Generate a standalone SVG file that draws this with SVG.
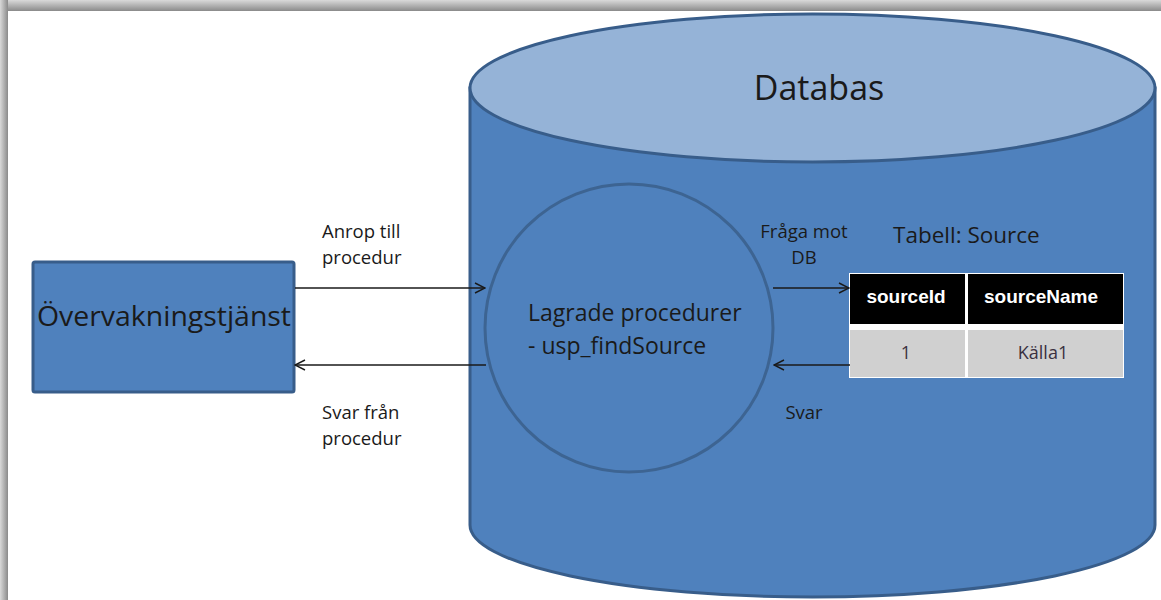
<svg xmlns="http://www.w3.org/2000/svg" width="1161" height="600" viewBox="0 0 1161 600">
  <defs>
    <linearGradient id="edgeTop" x1="0" y1="0" x2="0" y2="1">
      <stop offset="0" stop-color="#d9d9d9"/>
      <stop offset="1" stop-color="#8a8a8a"/>
    </linearGradient>
    <linearGradient id="edgeLeft" x1="0" y1="0" x2="1" y2="0">
      <stop offset="0" stop-color="#d9d9d9"/>
      <stop offset="1" stop-color="#8a8a8a"/>
    </linearGradient>
    <marker id="open" viewBox="0 0 12 12" refX="11" refY="6" markerWidth="12" markerHeight="12" markerUnits="userSpaceOnUse" orient="auto">
      <path d="M1,1 L11,6 L1,11" fill="none" stroke="#1a1a1a" stroke-width="1.4"/>
    </marker>
  </defs>
  <style>
    .shape { fill: #4f81bd; stroke: #385d8a; stroke-width: 3; }
    .lbl { font-family: "Open Sans", "Liberation Sans", sans-serif; fill: #1a1a1a; }
    .small { font-size: 18.5px; }
    .link { stroke: #1a1a1a; stroke-width: 1.5; fill: none; marker-end: url(#open); }
    .th { font-family: "Liberation Sans", sans-serif; font-weight: bold; font-size: 19px; fill: #ffffff; }
    .td { font-family: "Open Sans", "Liberation Sans", sans-serif; font-size: 18px; fill: #3a3040; }
  </style>

  <!-- page frame with drop shadow edges -->
  <rect x="0" y="0" width="1161" height="600" fill="#ffffff"/>
  <rect x="0" y="0" width="1161" height="11" fill="url(#edgeTop)"/>
  <rect x="0" y="0" width="8" height="600" fill="url(#edgeLeft)"/>

  <!-- database cylinder -->
  <g id="databas">
    <path class="shape" d="M470,88 L470,525 A342.5,72 0 0 0 1155,525 L1155,88 Z"/>
    <ellipse cx="812.5" cy="88" rx="342.5" ry="74" fill="#95b3d7" stroke="#385d8a" stroke-width="3"/>
    <text class="lbl" x="819" y="100" font-size="34" text-anchor="middle">Databas</text>
  </g>

  <!-- stored procedures -->
  <g id="procedurer">
    <circle cx="629" cy="328" r="144" fill="#4f81bd" stroke="#3d6492" stroke-width="3"/>
    <text class="lbl" x="528" y="321" font-size="23">Lagrade procedurer</text>
    <text class="lbl" x="528" y="354" font-size="23">- usp_findSource</text>
  </g>

  <!-- monitoring service -->
  <g id="overvakning">
    <rect class="shape" x="33" y="262" width="261" height="130" rx="2"/>
    <text class="lbl" x="164" y="326" font-size="27" text-anchor="middle" textLength="254" lengthAdjust="spacingAndGlyphs">Övervakningstjänst</text>
  </g>

  <!-- Source table -->
  <g id="tabell">
    <text class="lbl" x="893" y="243" font-size="22.5">Tabell: Source</text>
    <rect x="849" y="273" width="275" height="105" fill="#ffffff"/>
    <rect x="850" y="274" width="115" height="50" fill="#000000"/>
    <rect x="968" y="274" width="155" height="50" fill="#000000"/>
    <rect x="850" y="330" width="115" height="47" fill="#d0d0d0"/>
    <rect x="968" y="330" width="155" height="47" fill="#d0d0d0"/>
    <text class="th" x="906" y="303" text-anchor="middle">sourceId</text>
    <text class="th" x="1041" y="303" text-anchor="middle">sourceName</text>
    <text class="td" x="906" y="359" text-anchor="middle">1</text>
    <text class="td" x="1043" y="359" text-anchor="middle">Källa1</text>
  </g>

  <!-- connectors -->
  <g id="connectors">
    <line class="link" x1="295" y1="288" x2="485" y2="288"/>
    <line class="link" x1="486" y1="365" x2="295" y2="365"/>
    <line class="link" x1="773" y1="288" x2="849" y2="288"/>
    <line class="link" x1="850" y1="365" x2="774" y2="365"/>
    <text class="lbl small" x="322" y="238">Anrop till</text>
    <text class="lbl small" x="322" y="264">procedur</text>
    <text class="lbl small" x="322" y="419">Svar från</text>
    <text class="lbl small" x="322" y="445">procedur</text>
    <text class="lbl small" x="804" y="238" text-anchor="middle">Fråga mot</text>
    <text class="lbl small" x="804" y="264" text-anchor="middle">DB</text>
    <text class="lbl small" x="804" y="419" text-anchor="middle">Svar</text>
  </g>
</svg>
